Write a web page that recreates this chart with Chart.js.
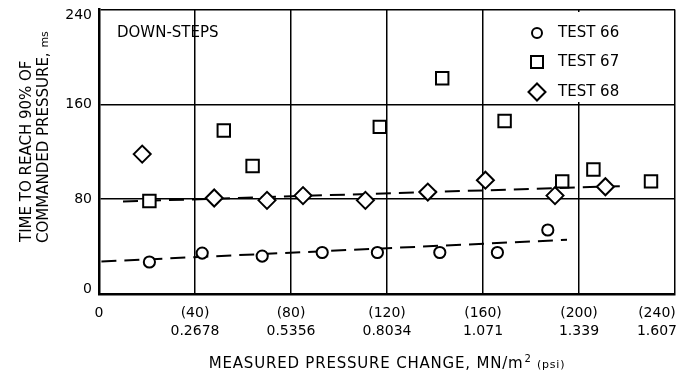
<!DOCTYPE html>
<html><head><meta charset="utf-8">
<script src="https://cdn.jsdelivr.net/npm/chart.js@4.4.0/dist/chart.umd.min.js"></script>
<style>html,body{margin:0;padding:0;background:#fff}canvas{display:block}</style>
</head><body>
<canvas id="c" width="679" height="375"></canvas>
<script>
// ---- data ----
const xTickValues = [0, 40, 80, 120, 160, 200, 240];
const xTickPsi = ["0", "(40)", "(80)", "(120)", "(160)", "(200)", "(240)"];
const xTickSI = ["", "0.2678", "0.5356", "0.8034", "1.071", "1.339", "1.607"];
const yTickValues = [0, 80, 160, 240];
const yTickLabels = ["0", "80", "160", "240"];

const test66X = [21, 43, 68, 93, 116, 142, 166, 187];
const test66Y = [27, 34.5, 32, 35, 35, 35, 35, 54];
const test67X = [21, 52, 64, 117, 143, 169, 193, 206, 230];
const test67Y = [78.5, 138, 108, 141, 182, 146, 95, 105, 95];
const test68X = [18, 48, 70, 85, 111, 137, 161, 190, 211];
const test68Y = [118, 81, 79, 83, 79, 86, 96, 83, 90.5];
const fit66X = [1, 195];
const fit66Y = [27.4, 45.7];
const fit68X = [10, 217];
const fit68Y = [78, 91];

const legendLabels = ["TEST 66", "TEST 67", "TEST 68"];
const noteText = "DOWN-STEPS";
const yTitle1 = "TIME TO REACH 90% OF";
const yTitle2 = "COMMANDED PRESSURE,";
const yTitleUnit = "ms";
const xTitleMain = "MEASURED PRESSURE CHANGE, MN/m";
const xTitleSup = "2";
const xTitleUnit = "(psi)";

const FONT = '"DejaVu Sans", sans-serif';
function pts(xs, ys) { return xs.map((x, i) => ({ x: x, y: ys[i] })); }

function drawMarker(ctx, style, x, y) {
  ctx.save();
  ctx.lineWidth = 2;
  ctx.strokeStyle = '#000';
  ctx.fillStyle = '#fff';
  ctx.beginPath();
  if (style === 'circle') {
    ctx.arc(x, y, 5, 0, Math.PI * 2);
  } else if (style === 'rect') {
    ctx.rect(x - 6, y - 6, 12, 12);
  } else {
    ctx.moveTo(x - 8.5, y); ctx.lineTo(x, y - 8.5); ctx.lineTo(x + 8.5, y); ctx.lineTo(x, y + 8.5); ctx.closePath();
  }
  ctx.fill(); ctx.stroke();
  ctx.restore();
}

const textPlugin = {
  id: 'texts',
  beforeDatasetsDraw(chart) {
    const ctx = chart.ctx;
    const a = chart.chartArea;
    ctx.save();
    ctx.fillStyle = '#fff';
    ctx.fillRect(522, 12, a.right - 2 - 522, 90);
    ctx.restore();
  },
  afterDraw(chart) {
    const ctx = chart.ctx;
    const xs = chart.scales.x, ys = chart.scales.y;
    const area = chart.chartArea;
    ctx.save();
    ctx.fillStyle = '#000';
    // y tick labels
    ctx.font = '14px ' + FONT;
    ctx.textAlign = 'right';
    ctx.textBaseline = 'middle';
    yTickValues.forEach((v, i) => {
      let py = ys.getPixelForValue(v);
      py = Math.max(area.top + 6, Math.min(area.bottom - 5, py));
      ctx.fillText(yTickLabels[i], 92, py);
    });
    // x tick labels
    ctx.textAlign = 'center';
    ctx.textBaseline = 'alphabetic';
    xTickValues.forEach((v, i) => {
      let px = xs.getPixelForValue(v);
      const w = Math.max(ctx.measureText(xTickPsi[i]).width, ctx.measureText(xTickSI[i]).width);
      if (px + w / 2 > 677) px = 677 - w / 2;
      ctx.fillText(xTickPsi[i], px, 317);
      if (xTickSI[i]) ctx.fillText(xTickSI[i], px, 335);
    });
    // note
    ctx.textAlign = 'left';
    ctx.font = '15px ' + FONT;
    ctx.textBaseline = 'middle';
    ctx.fillText(noteText, 117, 33);
    // legend
    const styles = ['circle', 'rect', 'rectRot'];
    const ly = [33, 62, 92];
    legendLabels.forEach((t, i) => {
      drawMarker(ctx, styles[i], 537, ly[i]);
      ctx.fillStyle = '#000';
      ctx.font = '15px ' + FONT;
      ctx.textAlign = 'left';
      ctx.textBaseline = 'middle';
      ctx.fillText(t, 558, ly[i]);
    });
    // x title
    ctx.textBaseline = 'alphabetic';
    ctx.textAlign = 'left';
    ctx.font = '15px ' + FONT;
    if ('letterSpacing' in ctx) ctx.letterSpacing = '0.8px';
    const w1 = ctx.measureText(xTitleMain).width;
    ctx.font = '10px ' + FONT;
    const w2 = ctx.measureText(xTitleSup).width;
    ctx.font = '11px ' + FONT;
    const w3 = ctx.measureText(' ' + xTitleUnit).width;
    let sx = (area.left + area.right) / 2 - (w1 + w2 + w3 + 2) / 2;
    ctx.font = '15px ' + FONT;
    ctx.fillText(xTitleMain, sx, 368);
    ctx.font = '10px ' + FONT;
    ctx.fillText(xTitleSup, sx + w1 + 1, 362);
    ctx.font = '11px ' + FONT;
    ctx.fillText(' ' + xTitleUnit, sx + w1 + w2 + 2, 368);
    // y title
    if ('letterSpacing' in ctx) ctx.letterSpacing = '0px';
    ctx.save();
    ctx.translate(31, 242);
    ctx.rotate(-Math.PI / 2);
    ctx.font = '15px ' + FONT;
    ctx.fillText(yTitle1, 0, 0);
    ctx.restore();
    ctx.save();
    ctx.translate(48, 243);
    ctx.rotate(-Math.PI / 2);
    ctx.font = '15px ' + FONT;
    ctx.fillText(yTitle2, 0, 0);
    const lw = ctx.measureText(yTitle2 + ' ').width;
    ctx.font = '11px ' + FONT;
    ctx.fillText(yTitleUnit, lw, 0);
    ctx.restore();
    ctx.restore();
  }
};

const markerCommon = { showLine: false, borderColor: '#000', backgroundColor: '#fff', borderWidth: 2, order: 1 };
const lineCommon = { showLine: true, borderColor: '#000', borderWidth: 2, borderDash: [15, 8], pointRadius: 0, pointHoverRadius: 0, fill: false, order: 2 };

new Chart(document.getElementById('c'), {
  type: 'scatter',
  data: {
    datasets: [
      Object.assign({ label: legendLabels[0], data: pts(test66X, test66Y), pointStyle: 'circle', pointRadius: 5.6 }, markerCommon),
      Object.assign({ label: legendLabels[1], data: pts(test67X, test67Y), pointStyle: 'rect', pointRadius: 8.8 }, markerCommon),
      Object.assign({ label: legendLabels[2], data: pts(test68X, test68Y), pointStyle: 'rectRot', pointRadius: 8.5 }, markerCommon),
      Object.assign({ label: 'fit66', data: pts(fit66X, fit66Y) }, lineCommon),
      Object.assign({ label: 'fit68', data: pts(fit68X, fit68Y) }, lineCommon)
    ]
  },
  options: {
    responsive: false,
    animation: false,
    events: [],
    layout: { autoPadding: false, padding: { top: 9.5, right: 4, left: 0, bottom: 0 } },
    plugins: { legend: { display: false }, tooltip: { enabled: false } },
    scales: {
      x: {
        type: 'linear', min: 0, max: 240,
        ticks: { stepSize: 40, display: false },
        grid: { color: '#000', lineWidth: 1.5, drawTicks: false },
        border: { display: true, color: '#000', width: 2.5 },
        afterFit(s) { s.height = 81; }
      },
      y: {
        type: 'linear', min: 0, max: 240,
        ticks: { stepSize: 80, display: false },
        grid: { color: '#000', lineWidth: 1.5, drawTicks: false },
        border: { display: true, color: '#000', width: 2.5 },
        afterFit(s) { s.width = 99; }
      }
    }
  },
  plugins: [textPlugin]
});
</script>
</body></html>
